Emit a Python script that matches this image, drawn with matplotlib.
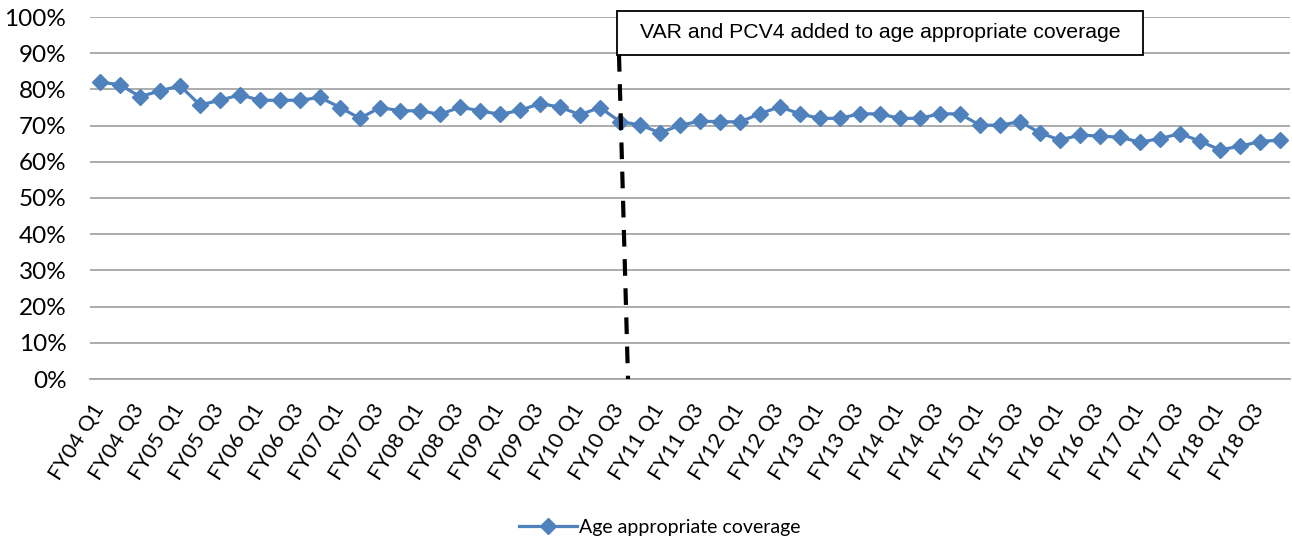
import matplotlib
matplotlib.use("Agg")
import matplotlib.pyplot as plt
from matplotlib.patches import Rectangle
from matplotlib.lines import Line2D
from matplotlib.ticker import FuncFormatter

plt.rcParams["font.family"] = ["Lato", "DejaVu Sans"]

BLUE = "#4F81BD"
GRID = "#A6A6A6"

# quarters FY04 Q1 .. FY18 Q4
years = [f"FY{y:02d}" for y in range(4, 19)]
quarters = [f"{fy} Q{q}" for fy in years for q in (1, 2, 3, 4)]
coverage = [82, 81.3, 78, 79.6, 81, 75.7, 77, 78.5, 77, 77, 77, 77.8,
            75, 72, 75, 74.1, 74.1, 73.1, 75.1, 74.1, 73.1, 74.2, 76.1, 75.1,
            73, 75, 71.1, 70.2, 68, 70.1, 71.2, 71.1, 71, 73.3, 75.2, 73.2,
            72, 72, 73.3, 73.2, 72, 72, 73.3, 73.2, 70.1, 70.1, 71.1, 68,
            66, 67.4, 67.1, 66.8, 65.4, 66.4, 67.8, 65.7, 63.3, 64.3, 65.6, 66]
label_name = "Age appropriate coverage"
note_text = "VAR and PCV4 added to age appropriate coverage"
# dashed marker line: from (x, y) at box bottom to axis
marker_x = [25.95, 26.4]
marker_y = [89.5, 0]

fig = plt.figure(figsize=(12.92, 5.42), dpi=100)
ax = fig.add_axes([90 / 1292, 1 - 379 / 542, 1200 / 1292, 362 / 542])

xs = list(range(len(quarters)))
ax.plot(xs, coverage, color=BLUE, lw=2.3, marker="D", ms=8.5,
        markeredgecolor=BLUE, zorder=3)

ax.plot(marker_x, marker_y, color="black", lw=3, dashes=(4, 3),
        clip_on=False, zorder=4)

ax.set_xlim(-0.5, len(quarters) - 0.5)
ax.set_ylim(0, 100)
ax.set_yticks(range(0, 101, 10))
ax.yaxis.set_major_formatter(FuncFormatter(lambda v, p: f"{v:.0f}%"))
ax.grid(axis="y", color=GRID, lw=1.3)
ax.set_axisbelow(True)
for s in ("top", "right", "left"):
    ax.spines[s].set_visible(False)
ax.spines["bottom"].set_color(GRID)
ax.spines["bottom"].set_linewidth(1.3)
ax.tick_params(axis="y", length=0, pad=17, labelsize=17.5)

ax.set_xticks(xs[::2])
ax.set_xticklabels(quarters[::2], rotation=58, ha="right", va="center",
                   rotation_mode="anchor", fontsize=15.5)
ax.tick_params(axis="x", length=0, pad=19)

# annotation box
x0, x1 = (617 - 90) / 1200, (1143 - 90) / 1200
y0, y1 = (379 - 55) / 362, (379 - 11) / 362
ax.add_patch(Rectangle((x0, y0), x1 - x0, y1 - y0, transform=ax.transAxes,
                       fc="white", ec="black", lw=1.3, clip_on=False, zorder=5))
ax.text((x0 + x1) / 2, (y0 + y1) / 2, note_text, transform=ax.transAxes,
        ha="center", va="center", fontsize=15.3, family="Liberation Sans",
        zorder=6)

handle = Line2D([], [], color=BLUE, lw=2.3, marker="D", ms=8.5)
fig.legend([handle], [label_name], loc="center",
           bbox_to_anchor=(660 / 1292, 1 - 527 / 542), frameon=False,
           fontsize=14, handlelength=3.0, handletextpad=0.1)

fig.savefig("out.png", dpi=100, facecolor="white")
